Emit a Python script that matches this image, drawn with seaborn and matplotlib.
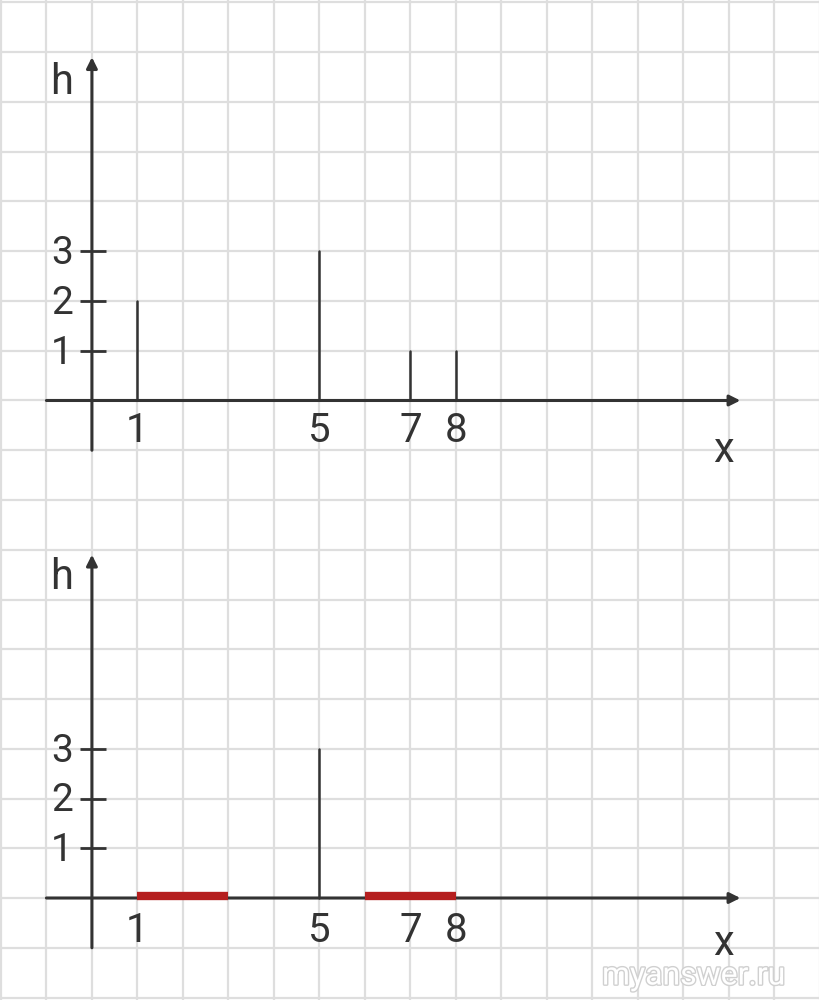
import numpy as np
import pandas as pd
import matplotlib
matplotlib.use("Agg")
import matplotlib.pyplot as plt
import matplotlib.patheffects as pe
import seaborn as sns

# ---- data ----
top_x = [1, 5, 7, 8]
top_h = [2, 3, 1, 1]
bot_x = [5]
bot_h = [3]
red_start = [1, 6]
red_end = [3, 8]
ytick_vals = [1, 2, 3]
xtick_labels_top = ["1", "5", "7", "8"]
xtick_labels_bot = ["1", "5", "7", "8"]
xtick_pos = [1, 5, 7, 8]

sns.set_theme(style="white")
plt.rcParams['font.family'] = ['Roboto', 'DejaVu Sans']

INK = "#333333"
GRID = "#dedede"
RED = "#b51f1f"

fig = plt.figure(figsize=(8.2, 10), dpi=100)
ax_top = fig.add_axes([0, 0.5, 1, 0.5])
ax_bot = fig.add_axes([0, 0.0, 1, 0.5])


def stems_frame(xs, hs):
    rows = []
    for i, (x, h) in enumerate(zip(xs, hs)):
        rows.append({"x": x, "h": 0, "id": i})
        rows.append({"x": x, "h": h, "id": i})
    return pd.DataFrame(rows)


def setup(ax, ylim, xs, hs, tick_labels, label_y, h_y, x_y):
    # stems
    df = stems_frame(xs, hs)
    sns.lineplot(data=df, x="x", y="h", units="id", estimator=None, sort=False,
                 color=INK, lw=1.8, ax=ax, zorder=4)
    ax.set_xlabel("")
    ax.set_ylabel("")

    ax.set_xticks(np.arange(-2, 17, 1))
    ax.set_yticks(np.arange(-2, 9, 1))
    ax.set_xlim(-2.02, 16.0)
    ax.set_ylim(*ylim)
    ax.grid(True, color=GRID, lw=1.6, zorder=0)
    ax.set_axisbelow(True)
    ax.tick_params(length=0, labelbottom=False, labelleft=False)
    for s in ax.spines.values():
        s.set_visible(False)
    ax.set_facecolor("white")

    # axes with arrows
    ax.annotate("", xy=(14.25, 0), xytext=(-1.0, 0),
                arrowprops=dict(arrowstyle="-|>", lw=2.2, color=INK,
                                mutation_scale=16, shrinkA=0, shrinkB=0), zorder=3)
    ax.annotate("", xy=(0, 6.9), xytext=(0, -1.0),
                arrowprops=dict(arrowstyle="-|>", lw=2.2, color=INK,
                                mutation_scale=16, shrinkA=0, shrinkB=0), zorder=3)
    # y ticks
    for v in ytick_vals:
        ax.plot([-0.27, 0.3], [v, v], color=INK, lw=2.0, zorder=3,
                solid_capstyle="butt")
        ax.text(-0.42, v - 0.05, str(v), ha="right", va="center",
                fontsize=28, color=INK)
    for p, t in zip(xtick_pos, tick_labels):
        ax.text(p, label_y, t, ha="center", va="center", fontsize=29, color=INK)
    ax.text(-0.66, h_y, "h", ha="center", va="center", fontsize=30, color=INK)
    ax.text(13.87, x_y, "x", ha="center", va="center", fontsize=30, color=INK)
    ax.set_xlim(-2.02, 16.0)
    ax.set_ylim(*ylim)


setup(ax_top, (-2.0, 8.05), top_x, top_h, xtick_labels_top, -0.61, 6.4, -1.0)
setup(ax_bot, (-2.05, 8.0), bot_x, bot_h, xtick_labels_bot, -0.66, 6.45, -0.92)

# red intervals on the lower chart
red_rows = []
for i, (a, b) in enumerate(zip(red_start, red_end)):
    red_rows.append({"x": a, "h": 0.05, "id": i})
    red_rows.append({"x": b, "h": 0.05, "id": i})
red_df = pd.DataFrame(red_rows)
sns.lineplot(data=red_df, x="x", y="h", units="id", estimator=None, sort=False,
             color=RED, lw=6, ax=ax_bot, zorder=5, solid_capstyle="butt")
ax_bot.set_xlabel("")
ax_bot.set_ylabel("")
ax_bot.set_xlim(-2.02, 16.0)
ax_bot.set_ylim(-2.05, 8.0)

# watermark
fig.text(694 / 820, 1 - 976 / 1000, "myanswer.ru", ha="center", va="center",
         fontsize=23, color="white",
         path_effects=[pe.withStroke(linewidth=2.0, foreground="#d0d0d0")])

fig.savefig("out.png", dpi=100)
